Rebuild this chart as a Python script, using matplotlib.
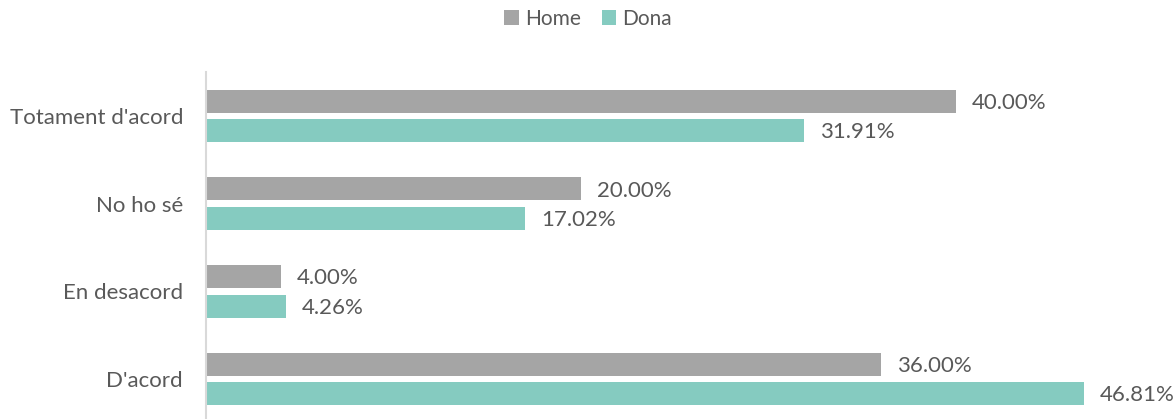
import matplotlib
matplotlib.use("Agg")
import matplotlib.pyplot as plt
import numpy as np

categories = ["Totament d'acord", "No ho sé", "En desacord", "D'acord"]
home = [40.00, 20.00, 4.00, 36.00]
dona = [31.91, 17.02, 4.26, 46.81]
series_names = ["Home", "Dona"]
colors = ["#A5A5A5", "#85CBC0"]
text_color = "#595959"

plt.rcParams['font.family'] = ['Lato', 'DejaVu Sans']

W, H = 1174, 419
fig = plt.figure(figsize=(W/100, H/100), dpi=100)
left_px, right_px, top_px, bottom_px = 206, 206 + 50*18.75, 72, 419
ax = fig.add_axes([left_px/W, 1 - bottom_px/H, (right_px-left_px)/W, (bottom_px-top_px)/H])

n = len(categories)
ypos = np.arange(n)[::-1].astype(float)  # top category highest
off = 0.168
h = 0.262
b1 = ax.barh(ypos + off, home, height=h, color=colors[0], label=series_names[0])
b2 = ax.barh(ypos - off, dona, height=h, color=colors[1], label=series_names[1])

for bars, vals in ((b1, home), (b2, dona)):
    for rect, v in zip(bars, vals):
        ax.text(v + 0.85, rect.get_y() + rect.get_height()/2 - 0.02, f"{v:.2f}%",
                va='center', ha='left', fontsize=16, color=text_color)

ax.set_xlim(0, 50)
ax.set_ylim(-0.456, 3.5)
ax.set_yticks(ypos)
ax.set_yticklabels(categories, fontsize=16, color=text_color)
ax.tick_params(axis='y', length=0, pad=16.5)
ax.set_xticks([])
for s in ['top', 'right', 'bottom']:
    ax.spines[s].set_visible(False)
ax.spines['left'].set_color('#D9D9D9')
ax.spines['left'].set_linewidth(1.5)

leg = fig.legend(handles=[b1, b2], labels=series_names, loc='center',
                 bbox_to_anchor=(588/W, 1 - 19/H), ncol=2, frameon=False,
                 prop={'size': 15}, handlelength=0.7, handleheight=0.7,
                 handletextpad=0.3, columnspacing=1.0)
for t in leg.get_texts():
    t.set_color(text_color)

fig.savefig("out.png", dpi=100)
